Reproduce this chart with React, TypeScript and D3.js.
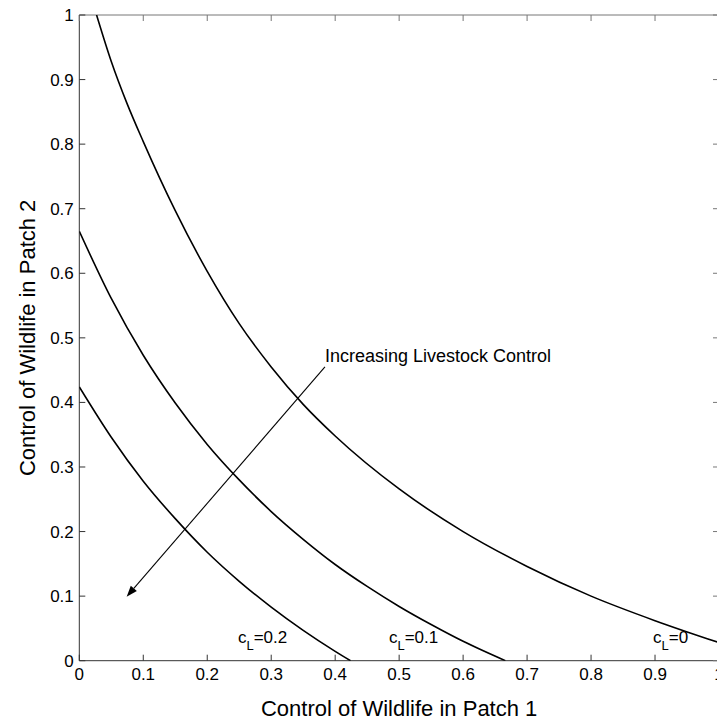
import React from "react";
import * as d3 from "d3";

// Data
const xTicks = [0, 0.1, 0.2, 0.3, 0.4, 0.5, 0.6, 0.7, 0.8, 0.9, 1];
const yTicks = [0, 0.1, 0.2, 0.3, 0.4, 0.5, 0.6, 0.7, 0.8, 0.9, 1];
const xTickLabels = ["0", "0.1", "0.2", "0.3", "0.4", "0.5", "0.6", "0.7", "0.8", "0.9", "1"];
const yTickLabels = ["0", "0.1", "0.2", "0.3", "0.4", "0.5", "0.6", "0.7", "0.8", "0.9", "1"];

// c_L = 0
const curve0X = [0.027, 0.05, 0.075, 0.1, 0.15, 0.2, 0.25, 0.3, 0.35, 0.4, 0.5, 0.6, 0.7, 0.8, 0.9, 1.0];
const curve0Y = [1.0, 0.928, 0.862, 0.804, 0.697, 0.603, 0.522, 0.455, 0.397, 0.348, 0.266, 0.2, 0.146, 0.1, 0.062, 0.028];
// c_L = 0.1
const curve1X = [0, 0.05, 0.1, 0.15, 0.2, 0.25, 0.3, 0.35, 0.4, 0.45, 0.5, 0.55, 0.6, 0.666];
const curve1Y = [0.665, 0.561, 0.473, 0.399, 0.335, 0.28, 0.231, 0.188, 0.149, 0.115, 0.084, 0.056, 0.03, 0];
// c_L = 0.2
const curve2X = [0, 0.05, 0.1, 0.15, 0.2, 0.25, 0.3, 0.35, 0.4, 0.424];
const curve2Y = [0.424, 0.346, 0.278, 0.22, 0.168, 0.123, 0.083, 0.047, 0.0145, 0];

const curveLabels = ["0", "0.1", "0.2"];
const curveLabelX = [0.897, 0.484, 0.248];
const curveLabelY = [0.027, 0.027, 0.027];

const arrowStart = [0.384, 0.455];
const arrowEnd = [0.074, 0.099];
const arrowText = "Increasing Livestock Control";

const xLabel = "Control of Wildlife in Patch 1";
const yLabel = "Control of Wildlife in Patch 2";

const W = 717;
const H = 726;
const left = 79.3;
const right = 719;
const top = 15;
const bottom = 660.7;
const FONT = "'Liberation Sans', Arial, Helvetica, sans-serif";

export default function App() {
  const x = d3.scaleLinear().domain([0, 1]).range([left, right]);
  const y = d3.scaleLinear().domain([0, 1]).range([bottom, top]);

  const line = d3
    .line<[number, number]>()
    .x((d) => x(d[0]))
    .y((d) => y(d[1]))
    .curve(d3.curveMonotoneX);

  const curves = [
    d3.zip(curve0X, curve0Y) as [number, number][],
    d3.zip(curve1X, curve1Y) as [number, number][],
    d3.zip(curve2X, curve2Y) as [number, number][],
  ];

  const ax1 = x(arrowStart[0]);
  const ay1 = y(arrowStart[1]);
  const ax2 = x(arrowEnd[0]);
  const ay2 = y(arrowEnd[1]);
  const ang = Math.atan2(ay2 - ay1, ax2 - ax1);
  const headLen = 11;
  const headW = 4;
  const bx = ax2 - headLen * Math.cos(ang);
  const by = ay2 - headLen * Math.sin(ang);
  const head = [
    [ax2, ay2],
    [bx + headW * Math.sin(ang), by - headW * Math.cos(ang)],
    [bx - headW * Math.sin(ang), by + headW * Math.cos(ang)],
  ];

  const tickLen = 6;
  const axisColor = "#333";

  return (
    <svg
      width={W}
      height={H}
      style={{ position: "absolute", left: 0, top: 0, background: "#fff" }}
      fontFamily={FONT}
    >
      <defs>
        <clipPath id="plotclip">
          <rect x={left} y={top} width={right - left} height={bottom - top} />
        </clipPath>
      </defs>
      <rect x={0} y={0} width={W} height={H} fill="#fff" />

      {/* box */}
      <line x1={left} x2={right} y1={top} y2={top} stroke="#777" strokeWidth={1} />
      <line x1={right} x2={right} y1={top} y2={bottom} stroke="#777" strokeWidth={1} />
      <line x1={left} x2={right} y1={bottom} y2={bottom} stroke={axisColor} strokeWidth={1} />
      <line x1={left} x2={left} y1={top} y2={bottom} stroke={axisColor} strokeWidth={1} />

      {/* x ticks */}
      {xTicks.map((t, i) => (
        <g key={"xt" + i}>
          <line x1={x(t)} x2={x(t)} y1={bottom} y2={bottom - tickLen} stroke={axisColor} />
          <line x1={x(t)} x2={x(t)} y1={top} y2={top + tickLen} stroke="#777" />
          <text x={x(t)} y={bottom + 19.3} fontSize={17} textAnchor="middle" fill="#000">
            {xTickLabels[i]}
          </text>
        </g>
      ))}
      {/* y ticks */}
      {yTicks.map((t, i) => (
        <g key={"yt" + i}>
          <line x1={left} x2={left + tickLen} y1={y(t)} y2={y(t)} stroke={axisColor} />
          <line x1={right} x2={right - tickLen} y1={y(t)} y2={y(t)} stroke="#777" />
          <text x={left - 5.5} y={y(t)} dy="0.35em" fontSize={17} textAnchor="end" fill="#000">
            {yTickLabels[i]}
          </text>
        </g>
      ))}

      {/* curves */}
      <g clipPath="url(#plotclip)">
        {curves.map((c, i) => (
          <path key={"c" + i} d={line(c) || ""} fill="none" stroke="#000" strokeWidth={1.6} />
        ))}
      </g>

      {/* arrow */}
      <line x1={ax1} y1={ay1} x2={bx} y2={by} stroke="#000" strokeWidth={1.1} />
      <polygon points={head.map((p) => p.join(",")).join(" ")} fill="#000" />
      <text x={ax1} y={ay1 - 4.5} fontSize={18} fill="#000">
        {arrowText}
      </text>

      {/* curve labels */}
      {curveLabels.map((lab, i) => (
        <text key={"cl" + i} x={x(curveLabelX[i])} y={y(curveLabelY[i])} fontSize={17} fill="#000">
          c
          <tspan dy={7} fontSize={13}>L</tspan>
          <tspan dy={-7} fontSize={17}>{"=" + lab}</tspan>
        </text>
      ))}

      {/* axis labels */}
      <text x={(left + right) / 2} y={716} fontSize={22} textAnchor="middle" fill="#000">
        {xLabel}
      </text>
      <text
        transform={`translate(35, ${(top + bottom) / 2}) rotate(-90)`}
        fontSize={22}
        textAnchor="middle"
        fill="#000"
      >
        {yLabel}
      </text>
    </svg>
  );
}
